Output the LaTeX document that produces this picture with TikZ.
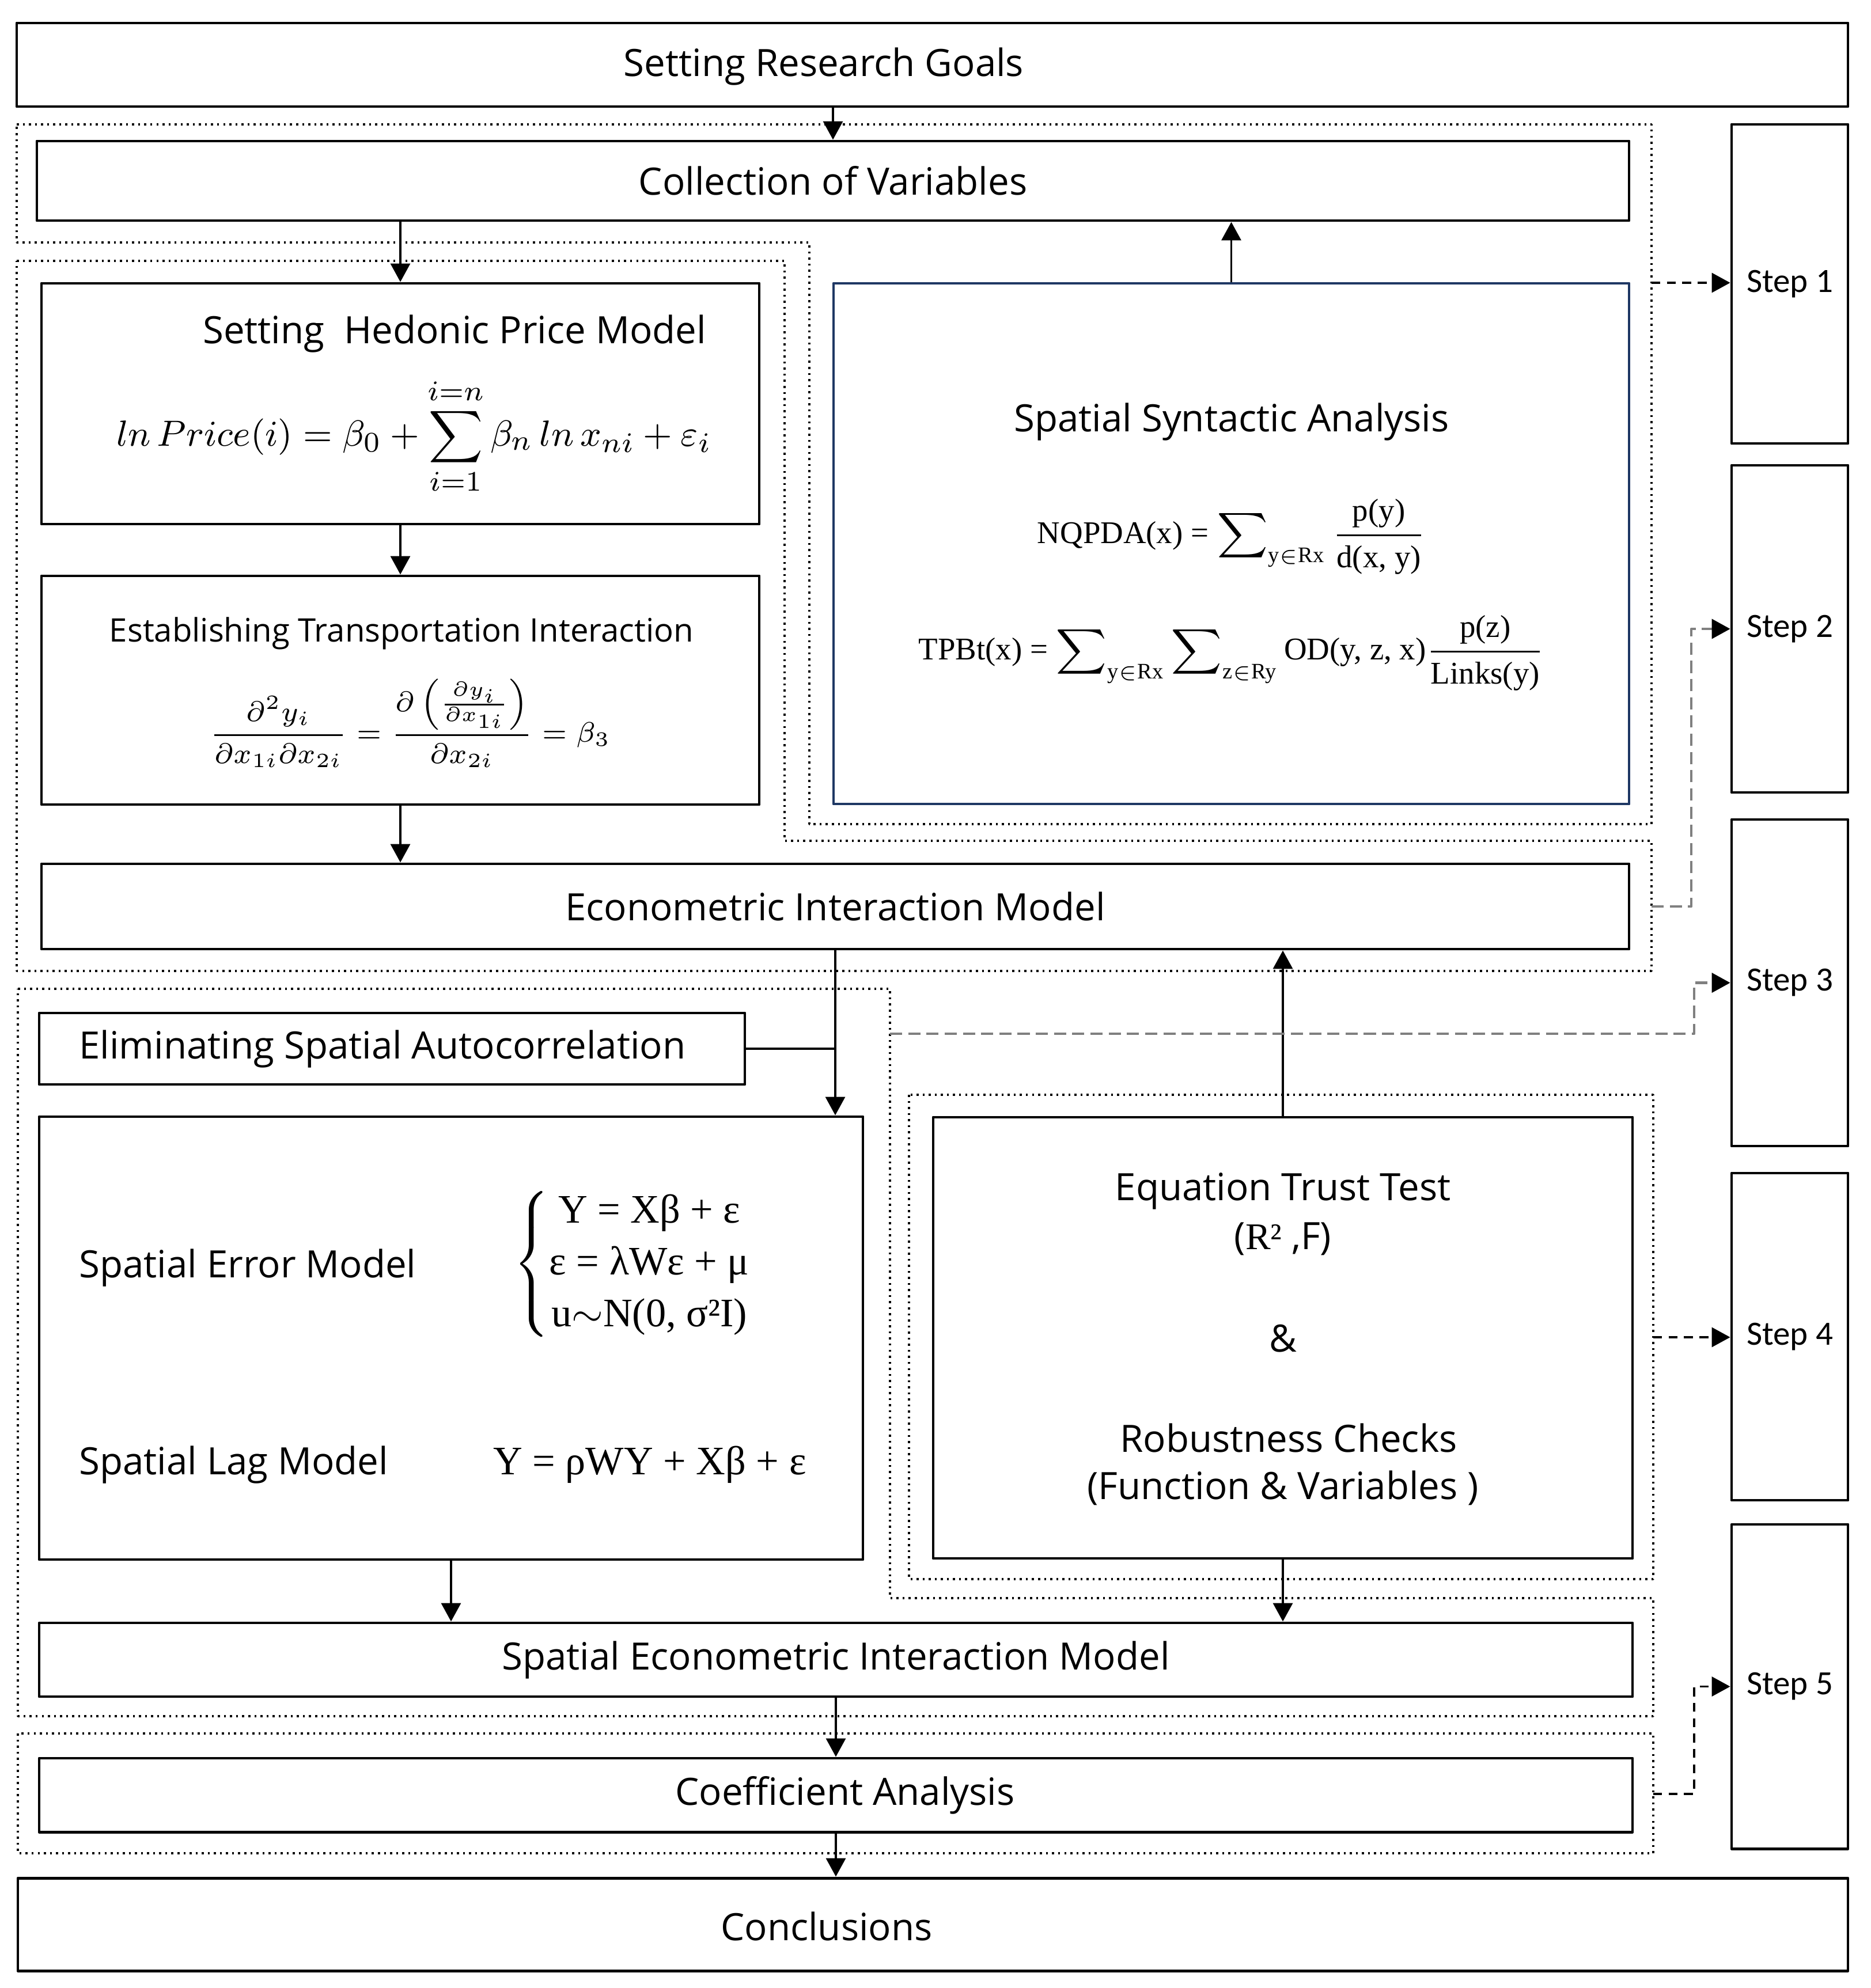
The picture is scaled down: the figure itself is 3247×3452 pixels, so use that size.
\documentclass[tikz,border=0pt]{standalone}
\usepackage{fontspec}
\usepackage{amsmath}
\setmainfont{Open Sans}
\newfontfamily\stepfont{Carlito}
\newfontfamily\timesfont{Liberation Serif}
\usetikzlibrary{arrows.meta,fit}
\definecolor{ssablue}{RGB}{31,56,100}
\definecolor{linkgray}{RGB}{128,128,128}
\newcommand\mainsize{\fontsize{9.3}{11}\selectfont}
\newcommand\tm[1]{\text{\timesfont #1}}

\tikzset{
	box/.style={draw,line width=0.7pt,inner sep=0pt},
	zone/.style={densely dotted,line width=0.5pt},
	link/.style={line width=0.5pt,->},
	steplink/.style={line width=0.5pt,dash pattern=on 2.2pt off 1.6pt,->},
	graylink/.style={line width=0.6pt,linkgray,dash pattern=on 3pt off 1.5pt,-{Triangle[length=1.6mm,width=1.7mm,color=black]}}
}

\begin{document}
\begin{tikzpicture}[x=0.05mm,y=-0.05mm,line join=round,font=\mainsize,>={Triangle[length=1.6mm,width=1.7mm]}]
	\useasboundingbox (0,0) rectangle (3247,3452);
	% dotted zones of the five steps
	\draw[zone] (29,216)--(2867,216)--(2867,1431)--(1405,1431)--(1405,421)--(29,421)--cycle;
	\draw[zone] (29,453)--(1362,453)--(1362,1460)--(2867,1460)--(2867,1686)--(29,1686)--cycle;
	\draw[zone] (31,1717)--(1545,1717)--(1545,2775)--(2870,2775)--(2870,2980)--(31,2980)--cycle;
	\draw[zone] (1578,1901) rectangle (2870,2742);
	\draw[zone] (31,3010) rectangle (2870,3218);

	% boxes
	\node[box,fit={(29,40) (3208,185)}] (goals) {};
	\node (goalsT) at (1430,116) {Setting Research Goals};
	\node[box,fit={(64,245) (2828,383)}] (coll) {};
	\node (collT) at (coll.center) {Collection of Variables};

	\node[box,fit={(72,492) (1318,910)}] (hed) {};
	\node[inner sep=0pt] (hedT) at (789,580) {Setting\ \ Hedonic Price Model};
	\node[inner sep=0pt,font=\fontsize{9.4}{11}\selectfont] (hedF) at (719,758)
		{$\displaystyle ln\,Price(i)=\beta_0+\sum_{i=1}^{i=n}\beta_n\,ln\,x_{ni}+\varepsilon_i$};

	\node[box,fit={(72,1000) (1318,1397)}] (est) {};
	\node[inner sep=0pt,font=\fontsize{8}{10}\selectfont] (estT) at (697,1100) {Establishing Transportation Interaction};
	\node[inner sep=0pt,font=\fontsize{7}{9}\selectfont] (estF) at (712,1256)
		{$\displaystyle\frac{\partial^2 y_i}{\partial x_{1i}\partial x_{2i}}=\frac{\partial\left(\frac{\partial y_i}{\partial x_{1i}}\right)}{\partial x_{2i}}=\beta_3$};

	\node[box,draw=ssablue,fit={(1447,492) (2828,1396)}] (ssa) {};
	\node (ssaT) at (2138,733) {Spatial Syntactic Analysis};
	\node[font=\fontsize{7.8}{10}\selectfont] (ssaF1) at (2138,932)
		{{\timesfont NQPDA(x) = }$\displaystyle\sum\nolimits_{\tm{y}\in\tm{Rx}}\frac{\tm{p(y)}}{\tm{d(x, y)}}$};
	\node[font=\fontsize{7.8}{10}\selectfont] (ssaF2) at (2138,1134)
		{{\timesfont TPBt(x) = }$\displaystyle\sum\nolimits_{\tm{y}\in\tm{Rx}}\sum\nolimits_{\tm{z}\in\tm{Ry}}\tm{OD(y, z, x)}\frac{\tm{p(z)}}{\tm{Links(y)}}$};

	\node[box,fit={(72,1500) (2828,1648)}] (econ) {};
	\node (econT) at (econ.center) {Econometric Interaction Model};

	\node[box,fit={(68,1759) (1293,1883)}] (elim) {};
	\node[anchor=west,inner sep=0pt] (elimT) at (136,1821) {Eliminating Spatial Autocorrelation};

	\node[box,fit={(68,1939) (1498,2708)}] (sem) {};
	\node[anchor=west,inner sep=0pt] (semT) at (136,2201) {Spatial Error Model};
	\node[anchor=west,inner sep=0pt,font=\fontsize{10}{12.8}\selectfont] (semF) at (890,2195)
		{$\left\{\begin{array}{@{}c@{}}\tm{Y = Xβ + ε}\\ \tm{ε = λWε + μ}\\ \tm{u}{\sim}\tm{N(0, σ²I)}\end{array}\right.$};
	\node[anchor=west,inner sep=0pt] (slmT) at (136,2543) {Spatial Lag Model};
	\node[font=\fontsize{10}{12}\selectfont\timesfont] (slmF) at (1128,2543) {Y = ρWY + Xβ + ε};

	\node[box,fit={(1620,1940) (2834,2706)}] (ett) {};
	\node (ettA) at (2227,2068) {Equation Trust Test};
	\node (ettB) at (2227,2151) {({\timesfont R²} ,F)};
	\node (ettC) at (2227,2324) {\&};
	\node (ettD) at (2237,2497) {Robustness Checks};
	\node (ettE) at (2227,2584) {(Function \& Variables )};

	\node[box,fit={(68,2818) (2834,2946)}] (spe) {};
	\node (speT) at (spe.center) {Spatial Econometric Interaction Model};
	\node[box,fit={(68,3053) (2834,3181)}] (coef) {};
	\node (coefT) at (1467,3117) {Coefficient Analysis};
	\node[box,fit={(31,3261) (3208,3422)}] (concl) {};
	\node (conclT) at (1435,3345) {Conclusions};

	% step boxes
	\foreach \n/\t/\b in {1/216/770,2/808/1376,3/1423/1990,4/2037/2605,5/2647/3210}{
		\node[box,fit={(3006,\t) (3208,\b)}] (step\n) {};
		\node[font=\fontsize{8.4}{10}\selectfont\stepfont] (step\n T) at (step\n.center) {Step \n};
	}

	% flow
	\draw[link] (goals.south -| coll.north)--(coll.north);
	\draw[link] (coll.south -| hed.north)--(hed.north);
	\draw[link] (ssa.north)--(ssa.north |- coll.south);
	\draw[link] (hed.south)--(est.north);
	\draw[link] (est.south)--(est.south |- econ.north);
	\draw[link] (econ.south)--(econ.south |- sem.north);
	\draw[line width=0.5pt] (elim.east)--(elim.east -| econ.south);
	\draw[link] (ett.north)--(ett.north |- econ.south);
	\draw[link] (sem.south)--(sem.south |- spe.north);
	\draw[link] (ett.south)--(ett.south |- spe.north);
	\draw[link] (spe.south)--(coef.north);
	\draw[link] (coef.south)--(coef.south |- concl.north);

	% zones to steps
	\coordinate (z1) at (2867,491);
	\coordinate (z2) at (2867,1574);
	\coordinate (z3) at (1545,1795);
	\coordinate (z4) at (2870,2322);
	\coordinate (z5) at (2870,3115);
	\draw[steplink] (z1)--(z1 -| step1.west);
	\draw[graylink] (z2)--++(69,0) |- (step2.west);
	\draw[graylink] (z3)--++(1396,0) |- (step3.west);
	\draw[steplink] (z4)--(z4 -| step4.west);
	\draw[steplink] (z5)--++(71,0) |- (step5.west);
\end{tikzpicture}
\end{document}
